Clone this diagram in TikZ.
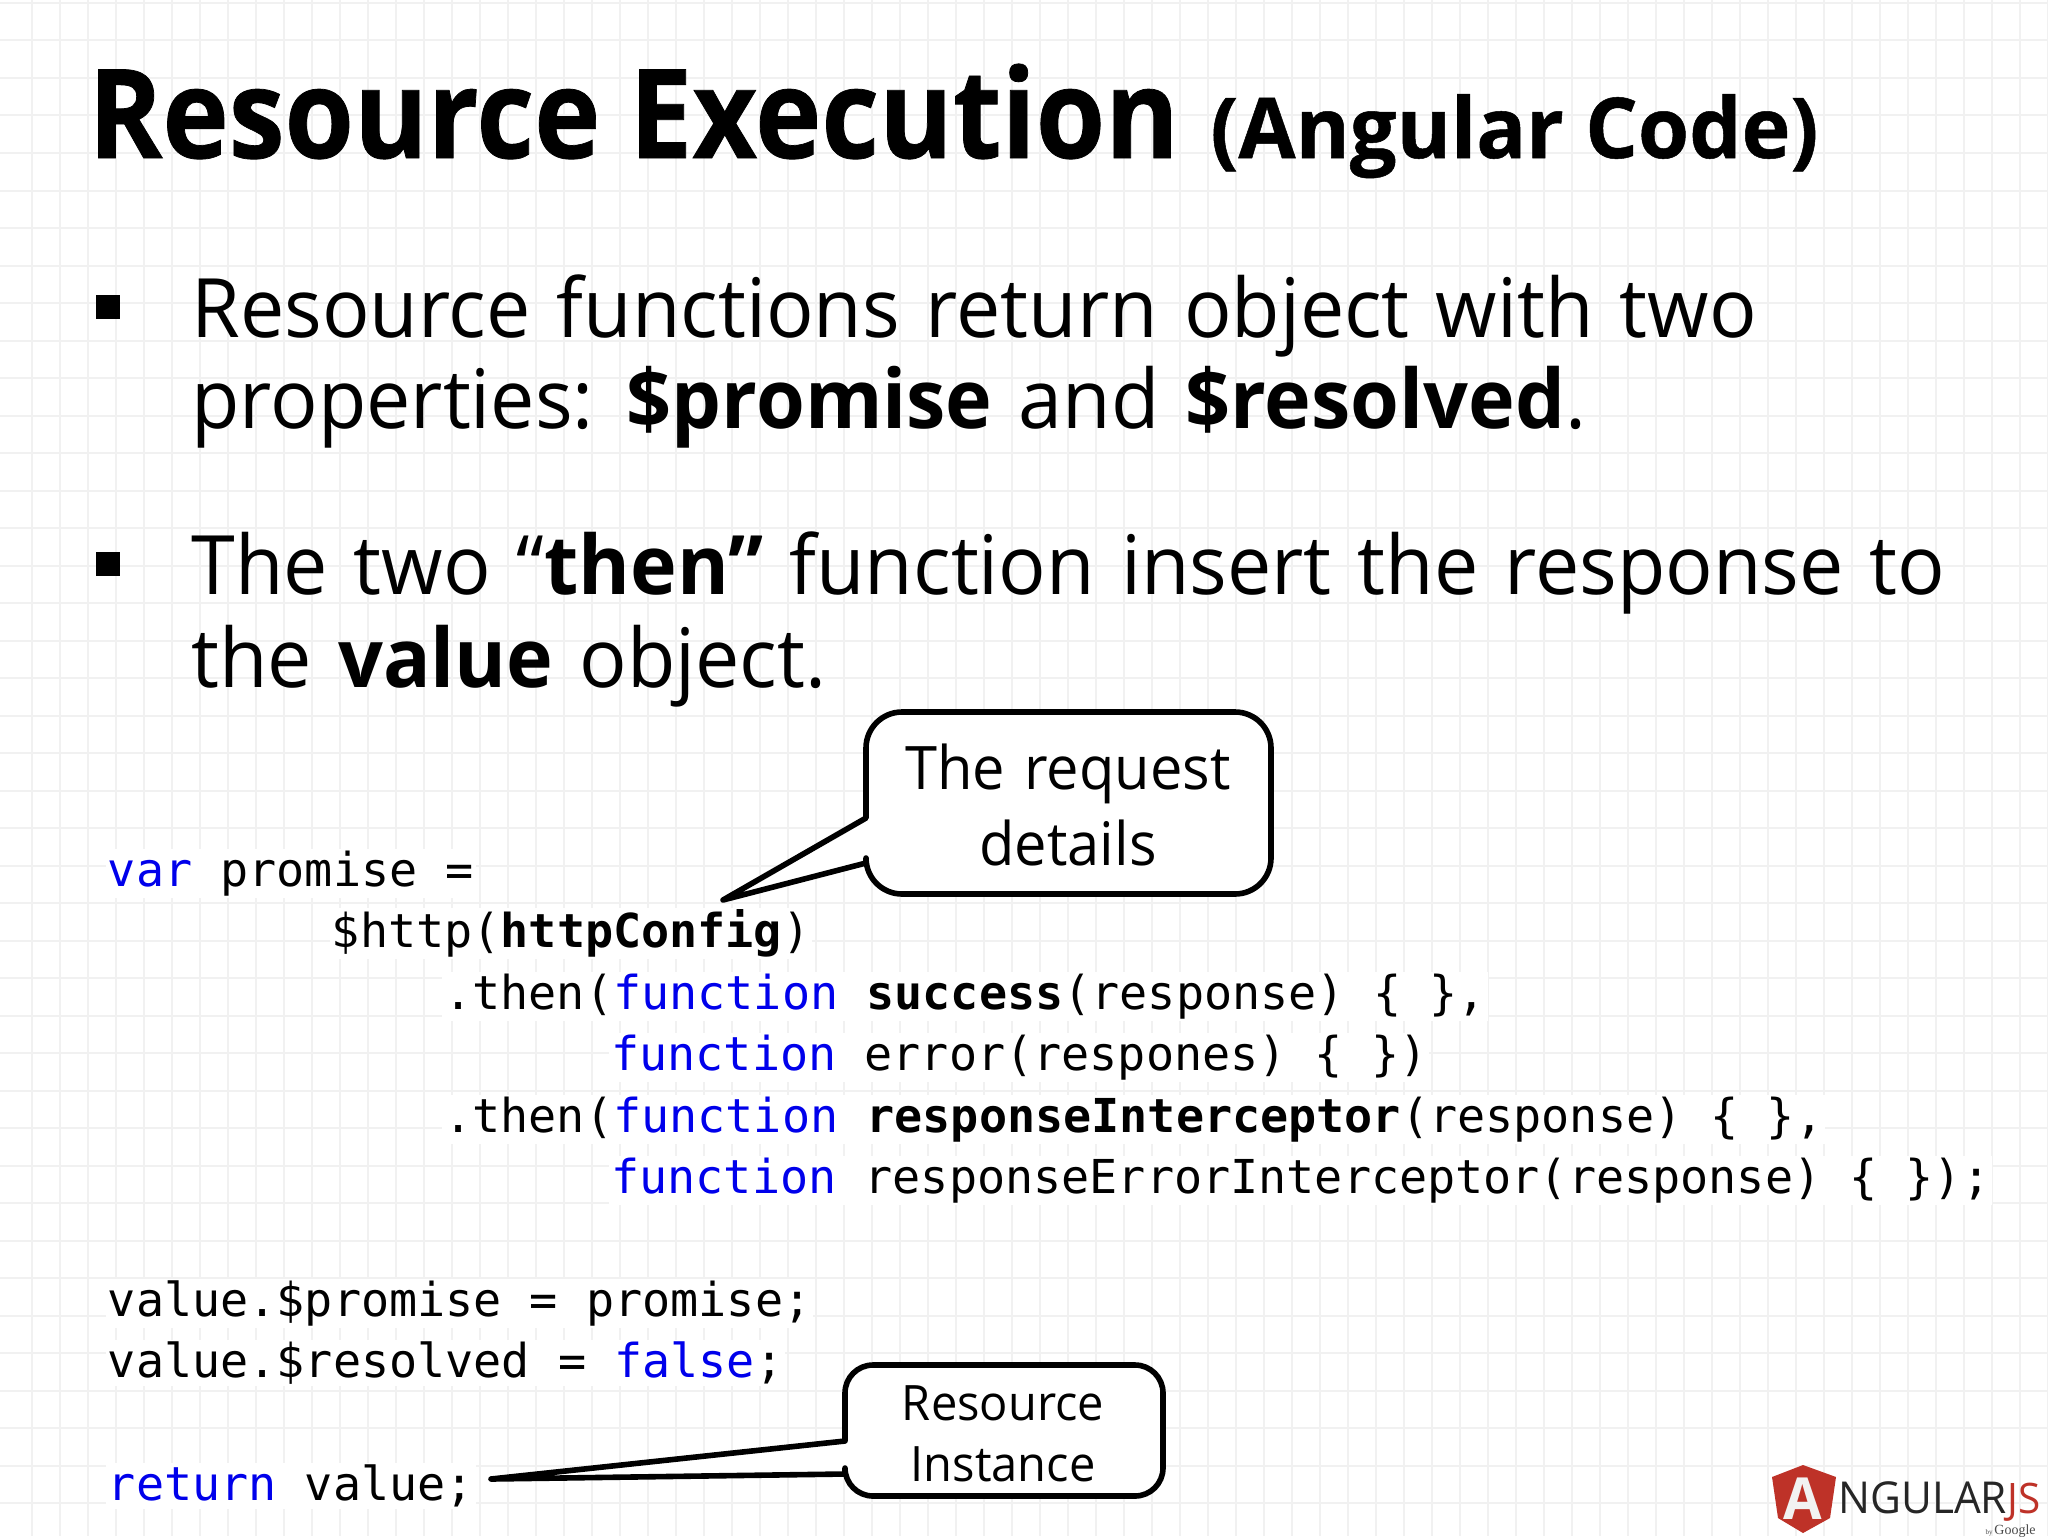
\documentclass[tikz,border=0pt]{standalone}
\usepackage{fontspec}
\setmainfont{Open Sans}[FakeStretch=0.963,WordSpace=1.27]
\setmonofont{DejaVu Sans Mono}
\newfontfamily\titlefont{Open Sans}[FakeStretch=0.905,FakeBold=0.6]
\newfontfamily\subfont{Open Sans}[FakeStretch=0.985,FakeBold=0.6]
\newfontfamily\gfont{Liberation Serif}
\definecolor{kwblue}{RGB}{0,0,235}
\definecolor{gridline}{RGB}{241,241,241}
\definecolor{shieldred}{RGB}{190,50,40}
\tikzset{
	bodytext/.style={anchor=base west,inner sep=0pt,font=\fontsize{41}{41}\selectfont},
	codetext/.style={anchor=base west,inner sep=1pt,fill=white,font=\fontsize{23.37}{23.37}\ttfamily},
	bubble/.style={draw=black,fill=white,line width=2.8pt,line join=round},
	bubbletext/.style={anchor=base,inner sep=0pt},
	bullet/.style={fill=black,inner sep=0pt,minimum size=12pt}
}
\newcommand{\kw}[1]{\textcolor{kwblue}{#1}}
\begin{document}
\begin{tikzpicture}[x=0.5pt,y=-0.5pt]
	\useasboundingbox (0,0) rectangle (2048,1536);
	\fill [white] (0,0) rectangle (2048,1536);
	% paper grid
	\foreach \gx in {32,60,...,2048}
		\draw [gridline,line width=1pt] (\gx,0) -- (\gx,1536);
	\foreach \gy in {3,40.5,...,1536}
		\draw [gridline,line width=1pt] (0,\gy) -- (2048,\gy);
	% heading
	\node [anchor=base west,inner sep=0pt,font=\fontsize{62}{62}\titlefont\bfseries] (title) at (88,158) {Resource Execution};
	\node [anchor=base west,inner sep=0pt,font=\fontsize{42}{42}\subfont\bfseries] (subtitle) at (1210,158) {(Angular Code)};
	% bullets
	\node [bullet] (bulletone) at (108,307) {};
	\node [bullet] (bullettwo) at (108,564) {};
	\node [bodytext] (lineone) at (191,337) {Resource functions return object with two};
	\node [bodytext] (linetwo) at (191,428) {properties: \textbf{\$promise} and \textbf{\$resolved}.};
	\node [bodytext] (linethree) at (191,594) {The two “\textbf{then”} function insert the response to};
	\node [bodytext] (linefour) at (191,687) {the \textbf{value} object.};
	% code
	\node [codetext] (codea) at (105.5,886) {\kw{var} promise =};
	\node [codetext] (codeb) at (329.5,947.5) {\$http(\textbf{httpConfig})};
	\node [codetext] (codec) at (442,1009) {.then(\kw{function} \textbf{success}(response) \{ \},};
	\node [codetext] (coded) at (609,1070.5) {\kw{function} error(respones) \{ \})};
	\node [codetext] (codee) at (442,1132) {.then(\kw{function} \textbf{responseInterceptor}(response) \{ \},};
	\node [codetext] (codef) at (609,1193.5) {\kw{function} responseErrorInterceptor(response) \{ \});};
	\node [codetext] (codeg) at (105.5,1316.5) {value.\$promise = promise;};
	\node [codetext] (codeh) at (105.5,1377.5) {value.\$resolved = \kw{false};};
	\node [codetext] (codei) at (105.5,1500.5) {\kw{return} value;};
	% callouts
	\coordinate (reqtip) at (723,900);
	\coordinate (restip) at (491,1479);
	\draw [bubble] (reqtip) -- (866,863) [rounded corners=18pt] -- (866,894) -- (1271,894) -- (1271,712) -- (866,712) [sharp corners] -- (866,818) -- cycle;
	\draw [bubble] (restip) -- (845,1474) [rounded corners=14pt] -- (845,1496) -- (1163,1496) -- (1163,1365) -- (845,1365) [sharp corners] -- (845,1441) -- cycle;
	\node [bubbletext,font=\fontsize{30}{30}\selectfont] (reqa) at (1068,789.5) {The request};
	\node [bubbletext,font=\fontsize{30}{30}\selectfont] (reqb) at (1068,865.5) {details};
	\node [bubbletext,font=\fontsize{24.4}{24.4}\selectfont] (resa) at (1003,1420) {Resource};
	\node [bubbletext,font=\fontsize{24.4}{24.4}\selectfont] (resb) at (1003,1481) {Instance};
	% logo
	\fill [shieldred] (1803,1465) -- (1836,1477) -- (1830,1518) -- (1803,1533) -- (1778,1518) -- (1772,1477) -- cycle;
	\node [anchor=base,inner sep=0pt,text=white!90!gray,font=\fontsize{29}{29}\selectfont\bfseries] (logoa) at (1803,1519) {A};
	\node [anchor=base west,inner sep=0pt,text=black!85,font=\fontsize{22}{22}\selectfont] (logob) at (1838,1513) {NGULAR};
	\node [anchor=base east,inner sep=0pt,text=shieldred,font=\fontsize{21}{21}\selectfont] (logoc) at (2041,1513) {JS};
	\node [anchor=base east,inner sep=0pt,text=black!70,font=\gfont] (logod) at (2036,1534) {\fontsize{3.5}{3.5}\selectfont by \fontsize{7}{7}\selectfont Google};
\end{tikzpicture}
\end{document}
